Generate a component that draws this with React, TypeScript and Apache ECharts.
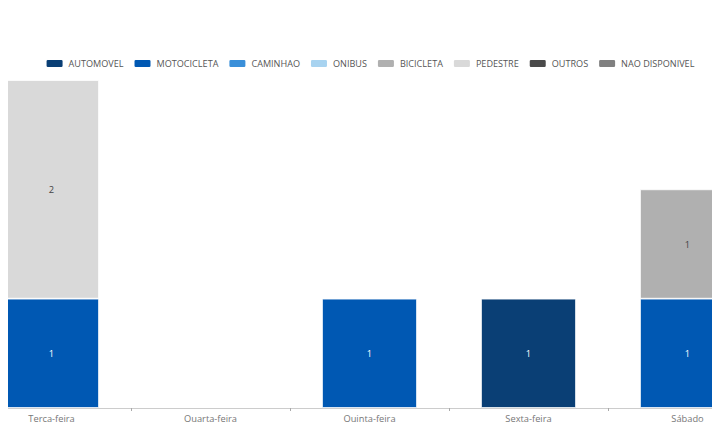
import React, { useEffect, useRef } from "react";
import * as echarts from "echarts";

const categories = ["Terça-feira", "Quarta-feira", "Quinta-feira", "Sexta-feira", "Sábado"];
const seriesNames = ["AUTOMOVEL", "MOTOCICLETA", "CAMINHAO", "ONIBUS", "BICICLETA", "PEDESTRE", "OUTROS", "NAO DISPONIVEL"];
const colors = ["#0a3f75", "#0058b3", "#3a8fd9", "#a8d3f0", "#b0b0b0", "#d9d9d9", "#4a4a4a", "#808080"];
const labelColors = ["#ffffff", "#ffffff", "#ffffff", "#444444", "#444444", "#444444", "#ffffff", "#ffffff"];
const automovel = [null, null, null, 1, null];
const motocicleta = [1, null, 1, null, 1];
const caminhao = [null, null, null, null, null];
const onibus = [null, null, null, null, null];
const bicicleta = [null, null, null, null, 1];
const pedestre = [2, null, null, null, null];
const outros = [null, null, null, null, null];
const naoDisponivel = [null, null, null, null, null];
const seriesValues = [automovel, motocicleta, caminhao, onibus, bicicleta, pedestre, outros, naoDisponivel];

export default function App() {
  const ref = useRef<HTMLDivElement>(null);
  useEffect(() => {
    if (!ref.current) return;
    const chart = echarts.init(ref.current, null, { renderer: "svg" });
    chart.setOption({
      animation: false,
      textStyle: { fontFamily: "Open Sans" },
      legend: {
        top: 53,
        left: "center",
        itemWidth: 18,
        itemHeight: 9,
        itemGap: 9,
        icon: "roundRect",
        textStyle: { fontSize: 9.1, color: "#555", fontFamily: "Open Sans", padding: [0, 0, 0, 0] },
        data: seriesNames,
      },
      grid: { left: 0, right: 0, top: 80, bottom: 22, containLabel: false },
      xAxis: {
        type: "category",
        data: categories,
        axisLine: { lineStyle: { color: "#cccccc" } },
        axisTick: { show: true, lineStyle: { color: "#aaaaaa" }, length: 3 },
        axisLabel: { color: "#777", fontSize: 9.3, margin: 6 },
      },
      yAxis: {
        type: "value",
        min: 0,
        max: 3,
        show: false,
        splitLine: { show: false },
      },
      series: seriesNames.map((name, i) => ({
        name,
        type: "bar",
        stack: "total",
        barWidth: 95,
        data: seriesValues[i],
        itemStyle: { color: colors[i], borderColor: "#ffffff", borderWidth: 0.8 },
        label: { show: true, position: "inside", color: labelColors[i], fontSize: 9.3 },
      })),
    });
    return () => chart.dispose();
  }, []);
  return (
    <div style={{ position: "relative", width: 720, height: 430, margin: -8, overflow: "hidden" }}>
      <div ref={ref} style={{ position: "absolute", left: -28, top: 0, width: 795, height: 430 }} />
    </div>
  );
}
